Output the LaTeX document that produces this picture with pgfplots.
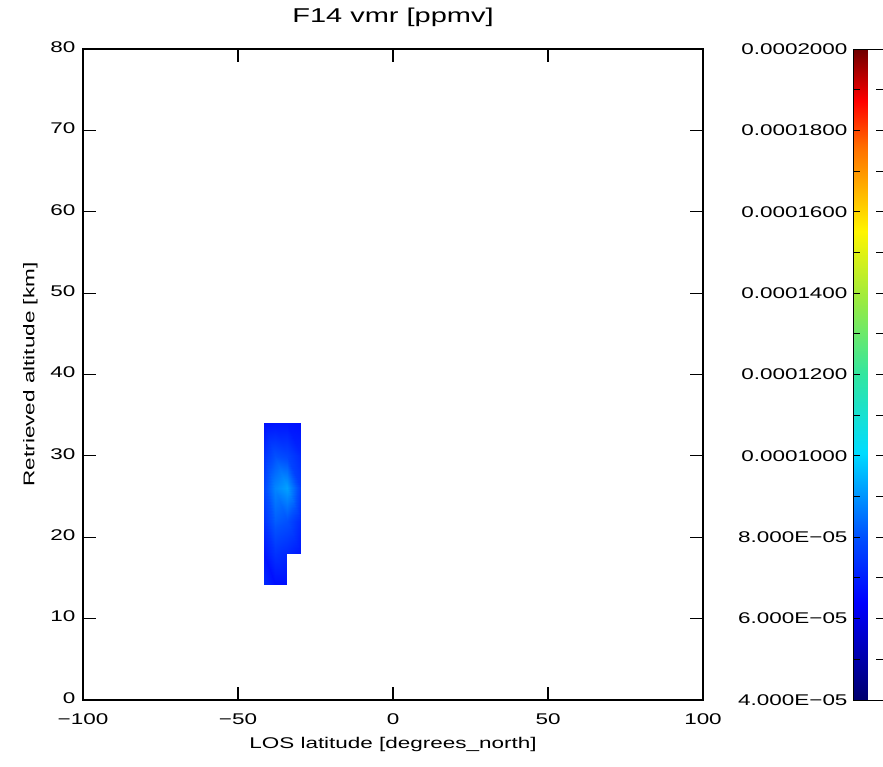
\documentclass[border=0pt]{standalone}
\usepackage{fontspec}
\setmainfont{Liberation Sans}[FakeStretch=1.45]
\usepackage{pgfplots}
\pgfplotsset{compat=1.18}
\pgfplotsset{colormap={idl}{rgb255(0cm)=(0,0,110) rgb255(15cm)=(0,0,255) rgb255(25cm)=(0,80,255) rgb255(38cm)=(0,220,255) rgb255(50cm)=(50,230,160) rgb255(62cm)=(160,235,60) rgb255(72cm)=(255,245,0) rgb255(85cm)=(255,110,0) rgb255(92cm)=(255,0,0) rgb255(100cm)=(110,0,0)}}
\newcommand{\tl}{\fontsize{15.5}{18}\selectfont}
\begin{document}
\begin{tikzpicture}
\begin{axis}[name=main, scale only axis, width=620pt, height=651pt,
 xmin=-100, xmax=100, ymin=0, ymax=80,
 xtick={-100,-50,0,50,100}, xticklabels={−100,−50,0,50,100},
 ytick={0,10,20,30,40,50,60,70,80}, yticklabels={0,10,20,30,40,50,60,70,80},
 tick align=inside, major tick length=13pt,
 axis line style={line width=1.2pt}, every tick/.style={line width=1.2pt, black},
 ticklabel style={font=\tl},
 xticklabel style={yshift=-10pt},
 yticklabel style={xshift=-4pt, yshift=2pt},
 title={F14 vmr [ppmv]},
 title style={font=\fontsize{20}{24}\selectfont, at={(axis description cs:0.5,1.031)}, anchor=base},
 xlabel={LOS latitude [degrees\_north]},
 xlabel style={font=\tl, at={(axis description cs:0.5,-0.074)}, anchor=base},
 ylabel={Retrieved altitude [km]},
 ylabel style={font=\tl, at={(axis description cs:-0.085,0.5)}, anchor=center},
 colormap name=idl, point meta min=4, point meta max=20,
 colorbar,
 colorbar style={width=30pt, at={(parent axis.north east)}, anchor=north west, xshift=141.5pt,
   ytick={4,6,8,10,12,14,16,18,20},
   yticklabels={4.000E−05,6.000E−05,8.000E−05,0.0001000,0.0001200,0.0001400,0.0001600,0.0001800,0.0002000},
   minor ytick={5,7,9,11,13,15,17,19},
   ytick pos=both, yticklabel pos=left, tick align=inside,
   major tick length=7pt, minor tick length=7pt,
   every tick/.style={line width=1pt, black},
   axis line style={line width=0.8pt},
   ticklabel style={font=\tl},
   yticklabel style={xshift=-2pt}},
]
\addplot[surf, shader=interp, mesh/cols=4, point meta=explicit] table[meta=c] {
x y c
-41.6 18 6.8
-38.0 18 7.4
-34.2 18 7.2
-29.7 18 6.8
-41.6 22 7.4
-38.0 22 8.2
-34.2 22 8.0
-29.7 22 7.2
-41.6 26 7.8
-38.0 26 8.8
-34.2 26 9.2
-29.7 26 7.6
-41.6 30 7.4
-38.0 30 8.0
-34.2 30 7.8
-29.7 30 7.2
-41.6 34 6.7
-38.0 34 6.8
-34.2 34 6.8
-29.7 34 6.7
};
\addplot[surf, shader=interp, mesh/cols=3, point meta=explicit] table[meta=c] {
x y c
-41.6 14.25 7.2
-38.0 14.25 6.7
-34.2 14.25 6.7
-41.6 18 6.8
-38.0 18 7.4
-34.2 18 7.2
};
\coordinate (SW) at (rel axis cs:0,0);
\end{axis}
\pgfresetboundingbox
\path[use as bounding box] (SW) ++(-83pt,-66pt) rectangle ++(883pt,766pt);
\end{tikzpicture}
\end{document}
